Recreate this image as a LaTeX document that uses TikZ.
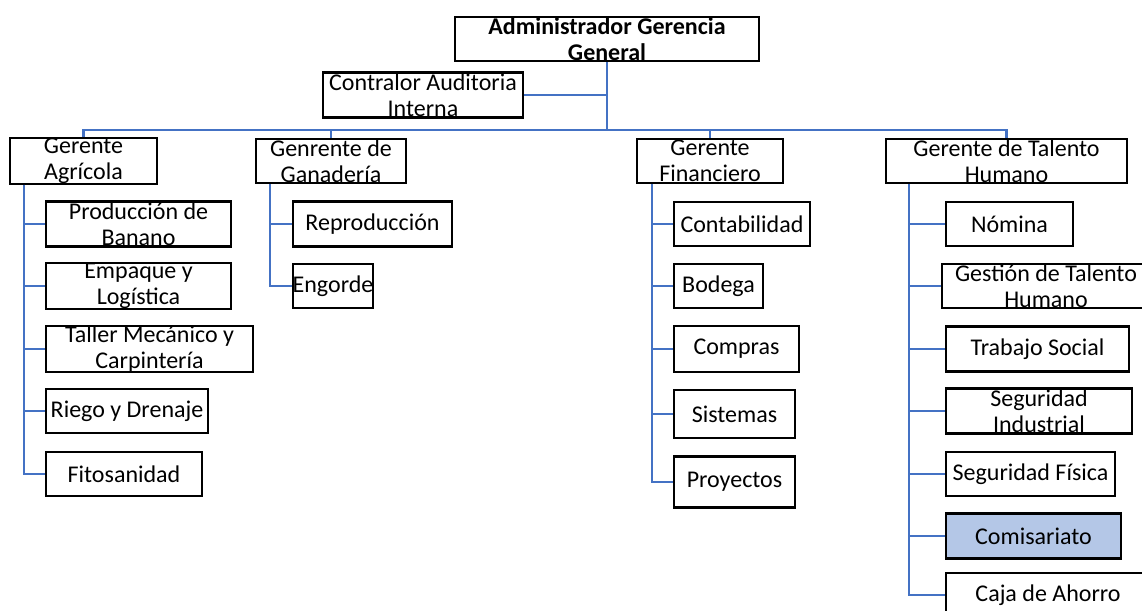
\documentclass[tikz,border=0pt]{standalone}
\usepackage{fontspec}
\setmainfont{Carlito}
\definecolor{conncol}{HTML}{4472C4}
\definecolor{hilite}{HTML}{B4C7E7}
\begin{document}
\begin{tikzpicture}[x=1pt,y=-1pt,
  box/.style={draw=black,line width=2.2pt,fill=white,inner sep=0pt,align=center,
    font=\fontsize{24}{26}\selectfont,text=black},
  conn/.style={draw=conncol,line width=2.5pt}]
\useasboundingbox (0,0) rectangle (1142,610);
\clip (0,0) rectangle (1142,610);
\coordinate (bus) at (607,130);
% nodes
\node[box,minimum width=304pt,minimum height=44pt,font=\fontsize{24}{26}\selectfont\bfseries] (top) at (607,39) {Administrador Gerencia\\General};
\node[box,minimum width=200pt,minimum height=45pt] (ctrl) at (423,95) {Contralor Auditoria\\Interna};
\node[box,minimum width=147pt,minimum height=44pt] (agr) at (83.5,161) {Gerente\\Agrícola};
\node[box,minimum width=150pt,minimum height=44pt] (gan) at (331,161) {Genrente de\\Ganadería};
\node[box,minimum width=146pt,minimum height=44pt] (fin) at (710,161) {Gerente\\Financiero};
\node[box,minimum width=241pt,minimum height=44pt] (tal) at (1006.5,161) {Gerente de Talento\\Humano};
% Agricola
\node[box,minimum width=185pt,minimum height=45pt] (ban) at (138.5,224) {Producción de\\Banano};
\node[box,minimum width=185pt,minimum height=44pt] (emp) at (138.5,286) {Empaque y\\Logística};
\node[box,minimum width=207pt,minimum height=44pt] (tmc) at (149.5,349) {Taller Mecánico y\\Carpintería};
\node[box,minimum width=162pt,minimum height=44pt] (rie) at (127,411) {Riego y Drenaje};
\node[box,minimum width=156pt,minimum height=44pt] (fit) at (124,474) {Fitosanidad};
% Ganaderia
\node[box,minimum width=159pt,minimum height=45pt] (rep) at (372.5,224) {Reproducción};
\node[box,minimum width=80pt,minimum height=44pt] (eng) at (333,286) {Engorde};
% Financiero
\node[box,minimum width=136pt,minimum height=44pt] (con) at (742,224) {Contabilidad};
\node[box,minimum width=89pt,minimum height=44pt] (bod) at (718.5,286) {Bodega};
\node[box,minimum width=125pt,minimum height=46pt] (com) at (736.5,349) {Compras};
\node[box,minimum width=121pt,minimum height=48pt] (sis) at (734.5,414) {Sistemas};
\node[box,minimum width=121pt,minimum height=51pt] (pro) at (734.5,482) {Proyectos};
% Talento
\node[box,minimum width=127pt,minimum height=44pt] (nom) at (1009.5,224) {Nómina};
\node[box,minimum width=208pt,minimum height=44pt] (ges) at (1046,286) {Gestión de Talento\\Humano};
\node[box,minimum width=183pt,minimum height=45pt] (tra) at (1037.5,349) {Trabajo Social};
\node[box,minimum width=186pt,minimum height=45pt] (sin) at (1039,411) {Seguridad\\Industrial};
\node[box,minimum width=169pt,minimum height=44pt] (sfi) at (1030.5,474) {Seguridad Física};
\node[box,minimum width=175pt,minimum height=45pt,fill=hilite] (cms) at (1033.5,536) {Comisariato};
\node[box,minimum width=204pt,minimum height=44pt] (caj) at (1048,595) {Caja de Ahorro};
% top connectors
\draw[conn] (top.south) -- (bus);
\draw[conn] (ctrl.east) -- (ctrl.east -| top.south);
\draw[conn] (agr.north) |- (bus);
\draw[conn] (gan.north) |- (bus);
\draw[conn] (fin.north) |- (bus);
\draw[conn] (tal.north) |- (bus);
% branch connectors
\foreach \c in {ban,emp,tmc,rie,fit}
  \draw[conn] ([xshift=15pt]agr.south west) |- (\c.west);
\foreach \c in {rep,eng}
  \draw[conn] ([xshift=15pt]gan.south west) |- (\c.west);
\foreach \c in {con,bod,com,sis,pro}
  \draw[conn] ([xshift=16pt]fin.south west) |- (\c.west);
\foreach \c in {nom,ges,tra,sin,sfi,cms,caj}
  \draw[conn] ([xshift=24pt]tal.south west) |- (\c.west);
\end{tikzpicture}
\end{document}
